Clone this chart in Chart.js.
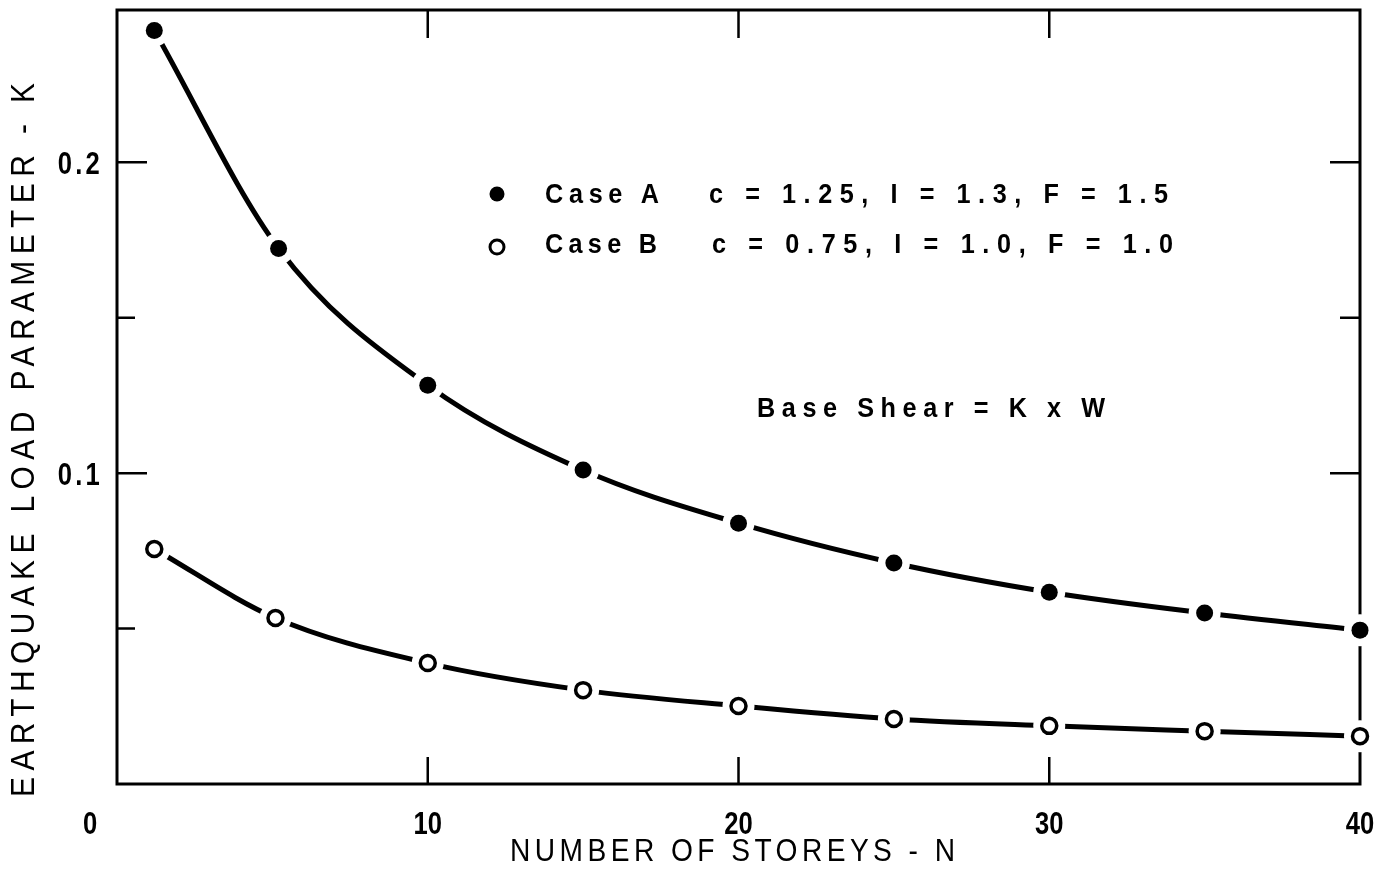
<!DOCTYPE html>
<html>
<head>
<meta charset="utf-8">
<script src="https://cdn.jsdelivr.net/npm/chart.js@4"></script>
<style>
  html, body { margin: 0; padding: 0; background: #fff; }
  #wrap { width: 1389px; height: 873px; }
</style>
</head>
<body>
<div id="wrap"><canvas id="chart"></canvas></div>
<script>
// values
const storeysA = [1.2, 5.2, 10, 15, 20, 25, 30, 35, 40];
const caseA = [0.2424, 0.1723, 0.1283, 0.101, 0.0839, 0.0711, 0.0617, 0.055, 0.0495];
const storeysB = [1.2, 5.1, 10, 15, 20, 25, 30, 35, 40];
const caseB = [0.0756, 0.0534, 0.0389, 0.0302, 0.0251, 0.0209, 0.0187, 0.017, 0.0154];

const xTicks = [0, 10, 20, 30, 40];
const xTickLabels = ['0', '10', '20', '30', '40'];
const yTicks = [0.05, 0.1, 0.15, 0.2];
const yTickLabels = ['', '0.1', '', '0.2'];

const legendA = ['Case A', 'c = 1.25, I = 1.3, F = 1.5'];
const legendB = ['Case B', 'c = 0.75, I = 1.0, F = 1.0'];
const note = 'Base Shear = K x W';
const xTitle = 'NUMBER OF STOREYS - N';
const yTitle = 'EARTHQUAKE LOAD PARAMETER - K';

const FONT = "'Liberation Sans', Arial, sans-serif";

function pts(xs, ys) {
    return xs.map((x, i) => ({ x: x, y: ys[i] }));
}

// narrow typewriter-ish text: squeezed horizontally, optionally spread to a width
function drawText(ctx, text, x, y, o) {
    ctx.save();
    ctx.font = (o.weight || 'normal') + ' ' + o.size + 'px ' + FONT;
    ctx.translate(x, y);
    if (o.rotate) ctx.rotate(o.rotate);
    ctx.scale(o.sx || 1, 1);
    ctx.textBaseline = 'middle';
    if (o.width) {
        ctx.letterSpacing = '0px';
        const w = ctx.measureText(text).width;
        const gap = (o.width / (o.sx || 1) - w) / (text.length - 1);
        ctx.letterSpacing = gap + 'px';
        ctx.textAlign = 'left';
    } else {
        ctx.letterSpacing = (o.spacing || 0) + 'px';
        ctx.textAlign = o.align || 'center';
    }
    ctx.fillText(text, 0, 0);
    ctx.restore();
}

const framePlugin = {
    id: 'frame',
    beforeDatasetsDraw(chart) {
        const { ctx, chartArea: a, scales } = chart;
        ctx.save();
        ctx.strokeStyle = '#000';
        ctx.lineWidth = 3;
        ctx.strokeRect(a.left, a.top, a.right - a.left, a.bottom - a.top);
        ctx.lineWidth = 2.5;
        ctx.beginPath();
        yTicks.forEach((v, i) => {
            const y = scales.y.getPixelForValue(v);
            const len = yTickLabels[i] ? 30 : 18;
            ctx.moveTo(a.left, y); ctx.lineTo(a.left + len, y);
            ctx.moveTo(a.right, y); ctx.lineTo(a.right - (yTickLabels[i] ? 30 : 20), y);
        });
        xTicks.slice(1, -1).forEach(v => {
            const x = scales.x.getPixelForValue(v);
            ctx.moveTo(x, a.top); ctx.lineTo(x, a.top + 28);
            ctx.moveTo(x, a.bottom); ctx.lineTo(x, a.bottom - 27);
        });
        ctx.stroke();
        ctx.restore();
    }
};

const textPlugin = {
    id: 'texts',
    afterDraw(chart) {
        const { ctx, scales } = chart;
        ctx.save();
        ctx.fillStyle = '#000';
        ctx.strokeStyle = '#000';

        xTicks.forEach((v, i) => {
            let x = scales.x.getPixelForValue(v);
            if (v === 0) x -= 27;
            drawText(ctx, xTickLabels[i], x, 825, { size: 32, sx: 0.8, weight: 'bold' });
        });
        yTicks.forEach((v, i) => {
            if (!yTickLabels[i]) return;
            const y = scales.y.getPixelForValue(v) + 3;
            drawText(ctx, yTickLabels[i], 103, y, { size: 32, sx: 0.8, weight: 'bold', align: 'right', spacing: 4 });
        });

        drawText(ctx, xTitle, 510, 852, { size: 32, sx: 0.88, width: 445 });
        drawText(ctx, yTitle, 25, 797, { size: 34, sx: 0.88, width: 714, rotate: -Math.PI / 2 });

        // legend
        ctx.beginPath();
        ctx.arc(497, 194, 7.5, 0, Math.PI * 2);
        ctx.fill();
        ctx.beginPath();
        ctx.lineWidth = 3;
        ctx.arc(497, 247, 7, 0, Math.PI * 2);
        ctx.stroke();

        const lg = { size: 28, sx: 0.9, weight: 'bold' };
        drawText(ctx, legendA[0], 545, 195, Object.assign({ width: 114 }, lg));
        drawText(ctx, legendA[1], 709, 195, Object.assign({ width: 459 }, lg));
        drawText(ctx, legendB[0], 545, 245, Object.assign({ width: 112 }, lg));
        drawText(ctx, legendB[1], 712, 245, Object.assign({ width: 461 }, lg));

        drawText(ctx, note, 757, 409, Object.assign({ width: 348 }, lg));
        ctx.restore();
    }
};

function curve(xs, ys) {
    return {
        type: 'line',
        data: pts(xs, ys),
        borderColor: '#000',
        borderWidth: 5,
        pointRadius: 0,
        cubicInterpolationMode: 'monotone',
        clip: false,
        order: 3
    };
}

function halo(xs, ys) {
    return {
        type: 'scatter',
        data: pts(xs, ys),
        pointRadius: 16,
        pointHoverRadius: 16,
        pointBackgroundColor: '#fff',
        pointBorderColor: '#fff',
        pointBorderWidth: 0,
        clip: false,
        order: 2
    };
}

function marks(xs, ys, filled) {
    return {
        type: 'scatter',
        data: pts(xs, ys),
        pointRadius: filled ? 8.5 : 7.5,
        pointBackgroundColor: filled ? '#000' : '#fff',
        pointBorderColor: '#000',
        pointBorderWidth: filled ? 0 : 3.5,
        clip: false,
        order: 1
    };
}

new Chart(document.getElementById('chart'), {
    type: 'scatter',
    data: {
        datasets: [
            curve(storeysA, caseA), curve(storeysB, caseB),
            halo(storeysA, caseA), halo(storeysB, caseB),
            marks(storeysA, caseA, true), marks(storeysB, caseB, false)
        ]
    },
    options: {
        responsive: true,
        maintainAspectRatio: false,
        animation: false,
        layout: { autoPadding: false, padding: { top: 10, right: 29, left: 0, bottom: 0 } },
        plugins: { legend: { display: false }, tooltip: { enabled: false } },
        scales: {
            x: {
                type: 'linear',
                min: 0,
                max: 40,
                grid: { display: false },
                border: { display: false },
                ticks: { display: false },
                afterFit(scale) {
                    scale.height = 89;
                    scale.paddingLeft = 0;
                    scale.paddingRight = 0;
                }
            },
            y: {
                type: 'linear',
                min: 0,
                max: 0.249,
                grid: { display: false },
                border: { display: false },
                ticks: { display: false },
                afterFit(scale) {
                    scale.width = 117;
                    scale.paddingTop = 0;
                    scale.paddingBottom = 0;
                }
            }
        }
    },
    plugins: [framePlugin, textPlugin]
});
</script>
</body>
</html>
